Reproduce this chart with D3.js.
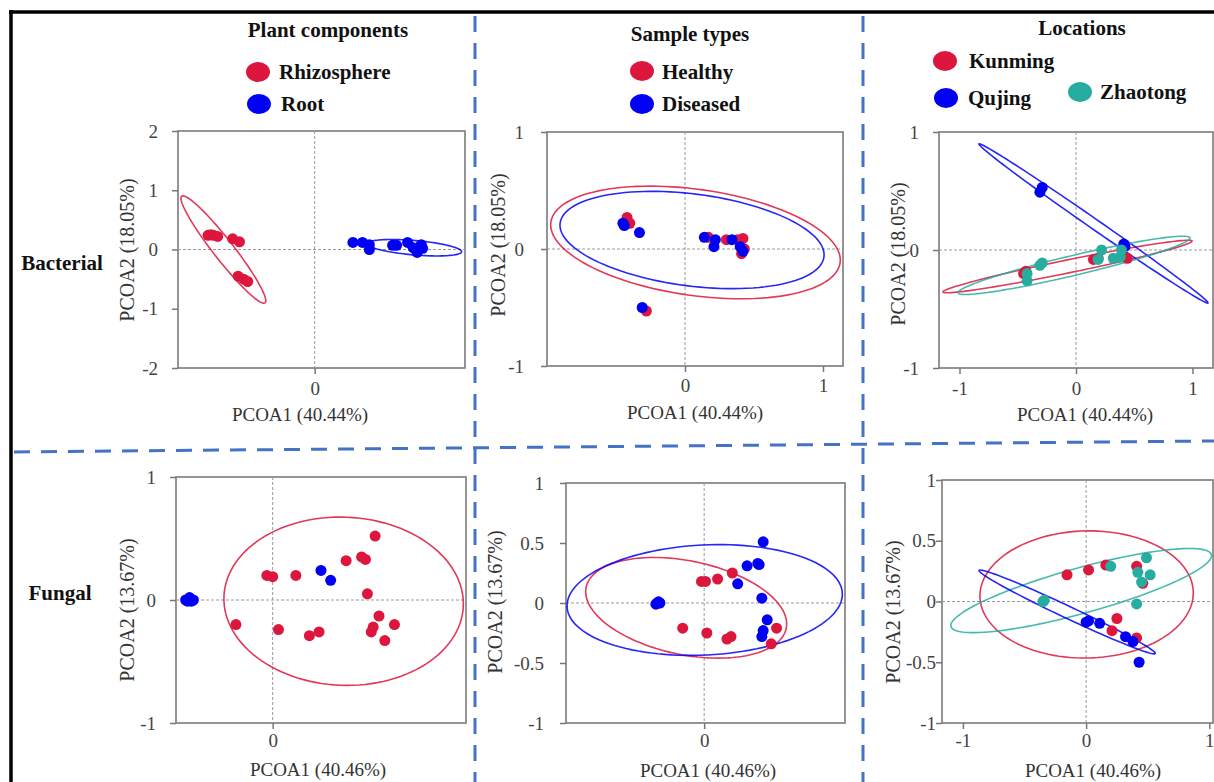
<!DOCTYPE html>
<html>
<head>
<meta charset="utf-8">
<script src="https://cdn.jsdelivr.net/npm/d3@7"></script>
<style>
  body { margin: 0; background: #fff; }
  svg { display: block; font-family: "Liberation Serif", "Times New Roman", serif; }
  .tick text { fill: #444; font-size: 19px; font-family: "Liberation Serif", serif; }
  .tick line { stroke: #777; stroke-width: 1.5; }
</style>
</head>
<body>
<svg id="chart" width="1214" height="782"></svg>
<script>
// ---- data (PCoA scores) ----
const red = "#dc163c", blue = "#0000f5", teal = "#27ada0";

// Bacterial - plant components
const bactPlantRhizo = [[-0.78,0.24],[-0.76,0.25],[-0.74,0.24],[-0.71,0.22],[-0.6,0.18],[-0.55,0.13],[-0.56,-0.45],[-0.52,-0.5],[-0.49,-0.54]];
const bactPlantRoot = [[0.28,0.12],[0.35,0.12],[0.40,0.08],[0.40,0.0],[0.57,0.07],[0.60,0.07],[0.68,0.12],[0.72,0.03],[0.75,-0.05],[0.78,0.08],[0.79,0.02]];
// Bacterial - sample types
const bactSampleHealthy = [[-0.42,0.27],[-0.40,0.22],[-0.28,-0.53],[0.17,0.10],[0.30,0.08],[0.42,0.09],[0.41,-0.04],[0.43,0.0],[0.38,0.08]];
const bactSampleDiseased = [[-0.45,0.22],[-0.44,0.2],[-0.33,0.14],[-0.31,-0.5],[0.14,0.10],[0.22,0.08],[0.21,0.02],[0.34,0.08],[0.40,0.02],[0.42,-0.02]];
// Bacterial - locations
const bactLocKunming = [[-0.45,-0.2],[-0.43,-0.18],[0.15,-0.08],[0.19,-0.07],[0.44,-0.07],[0.40,-0.05]];
const bactLocQujing = [[-0.29,0.53],[-0.31,0.49],[0.42,0.03],[0.41,0.05]];
const bactLocZhaotong = [[-0.42,-0.2],[-0.42,-0.26],[-0.31,-0.13],[-0.29,-0.11],[0.22,0.0],[0.19,-0.08],[0.32,-0.07],[0.38,-0.06],[0.39,0.0]];
// Fungal - plant components
const fungPlantRhizo = [[0.53,0.52],[0.38,0.32],[0.46,0.35],[0.48,0.33],[-0.03,0.2],[0.0,0.19],[0.12,0.2],[0.49,0.05],[-0.19,-0.2],[0.03,-0.24],[0.19,-0.29],[0.24,-0.26],[0.55,-0.13],[0.52,-0.22],[0.51,-0.26],[0.63,-0.2],[0.58,-0.33]];
const fungPlantRoot = [[-0.45,0],[-0.43,0.02],[-0.42,-0.01],[-0.44,-0.01],[-0.41,0.0],[0.25,0.24],[0.30,0.16]];
// Fungal - sample types
const fungSampleHealthy = [[0.21,0.25],[0.10,0.2],[-0.02,0.18],[0.01,0.18],[-0.16,-0.21],[0.02,-0.25],[0.17,-0.3],[0.2,-0.28],[0.54,-0.21],[0.50,-0.34]];
const fungSampleDiseased = [[-0.35,0],[-0.34,0.01],[-0.36,-0.01],[-0.33,0],[0.44,0.51],[0.32,0.31],[0.40,0.33],[0.41,0.32],[0.25,0.16],[0.43,0.04],[0.47,-0.14],[0.44,-0.23],[0.43,-0.28]];
// Fungal - locations
const fungLocKunming = [[-0.155,0.22],[0.02,0.26],[0.16,0.3],[0.41,0.29],[0.46,0.15],[0.25,-0.14],[0.21,-0.24],[0.41,-0.3]];
const fungLocQujing = [[0,-0.17],[0.02,-0.16],[0.11,-0.18],[0.32,-0.29],[0.38,-0.33],[0.43,-0.5]];
const fungLocZhaotong = [[-0.35,0],[-0.34,0.01],[0.2,0.29],[0.49,0.36],[0.42,0.24],[0.52,0.22],[0.45,0.16],[0.41,-0.02]];

// confidence ellipses: centre + two conjugate semi-axes, in data units
const bactPlantEll = [{c:[-0.668,0], u:[0.305,-0.9], v:[0.058,0.104], col:red}, {c:[0.73,0.03], u:[0.345,-0.07], v:[0.01,0.12], col:blue}];
const bactSampleEll = [{c:[0.076,0.056], u:[1.048,-0.174], v:[-0.054,-0.449], col:red}, {c:[0.051,0.077], u:[0.956,-0.144], v:[-0.042,-0.39], col:blue}];
const bactLocEll = [{c:[-0.073,-0.14], u:[1.069,0.216], v:[0.011,-0.054], col:red}, {c:[0.15,0.225], u:[0.983,-0.674], v:[-0.024,-0.035], col:blue}, {c:[-0.017,-0.13], u:[0.996,0.233], v:[0.02,-0.082], col:teal}];
const fungPlantEll = [{c:[0.367,-0.01], u:[0.619,-0.04], v:[-0.018,-0.683], col:red}];
const fungSampleEll = [{c:[-0.134,-0.04], u:[0.746,-0.171], v:[-0.07,-0.383], col:red}, {c:[0.004,0.025], u:[1.026,0.058], v:[0.021,-0.458], col:blue}];
const fungLocEll = [{c:[0.004,0.058], u:[0.866,0.012], v:[0,-0.523], col:red}, {c:[-0.04,0.09], u:[1.057,0.296], v:[0.049,-0.18], col:teal}, {c:[-0.154,-0.086], u:[0.715,-0.342], v:[-0.021,-0.045], col:blue}];

const xLabBact = "PCOA1  (40.44%)", yLabBact = "PCOA2 (18.05%)";
const xLabFung = "PCOA1  (40.46%)", yLabFung = "PCOA2 (13.67%)";

// ---- layout of the six panels ----
const panels = [
  {box:[178,465,131,368], xd:[-1,1.1], yd:[-2,2], xt:[0], yt:[-2,-1,0,1,2], yPad:14, xPad:8,
   series:[[bactPlantRhizo,red],[bactPlantRoot,blue]], ell:bactPlantEll, xl:[300,421], yl:[127,250], xLab:xLabBact, yLab:yLabBact},
  {box:[547,843,132,366], xd:[-1,1.145], yd:[-1,1], xt:[0,1], yt:[-1,0,1], yPad:17, xPad:7,
   series:[[bactSampleHealthy,red],[bactSampleDiseased,blue]], ell:bactSampleEll, xl:[695,419], yl:[498,245], xLab:xLabBact, yLab:yLabBact},
  {box:[939,1213,132,368], xd:[-1.176,1.176], yd:[-1,1], xt:[-1,0,1], yt:[-1,0,1], yPad:14, xPad:8,
   series:[[bactLocKunming,red],[bactLocQujing,blue],[bactLocZhaotong,teal]], ell:bactLocEll, xl:[1085,421], yl:[898,254], xLab:xLabBact, yLab:yLabBact},
  {box:[176,466,477,723], xd:[-0.5,1], yd:[-1,1], xt:[0], yt:[-1,0,1], yPad:14, xPad:5,
   series:[[fungPlantRhizo,red],[fungPlantRoot,blue]], ell:fungPlantEll, xl:[318,776], yl:[127,610], xLab:xLabFung, yLab:yLabFung},
  {box:[566,845,483,723], xd:[-1.03,1.05], yd:[-1,1], xt:[0], yt:[-1,-0.5,0,0.5,1], yPad:16, xPad:5,
   series:[[fungSampleHealthy,red],[fungSampleDiseased,blue]], ell:fungSampleEll, xl:[708,777], yl:[495,602], xLab:xLabFung, yLab:yLabFung},
  {box:[942,1213,480,723], xd:[-1.17,1.03], yd:[-1,1], xt:[-1,0,1], yt:[-1,-0.5,0,0.5,1], yPad:0, xPad:5,
   series:[[fungLocKunming,red],[fungLocQujing,blue],[fungLocZhaotong,teal]], ell:fungLocEll, xl:[1093,777], yl:[893,612], xLab:xLabFung, yLab:yLabFung}
];

const svg = d3.select("#chart");

function drawPanel(p) {
  const [x0, x1, y0, y1] = p.box;
  const x = d3.scaleLinear().domain(p.xd).range([x0, x1]);
  const y = d3.scaleLinear().domain(p.yd).range([y1, y0]);
  const g = svg.append("g");

  // frame
  g.append("rect").attr("x", x0).attr("y", y0).attr("width", x1 - x0).attr("height", y1 - y0)
    .attr("fill", "none").attr("stroke", "#7a7a7a").attr("stroke-width", 1.6);
  // zero lines
  g.append("line").attr("x1", x0).attr("x2", x1).attr("y1", y(0)).attr("y2", y(0))
    .attr("stroke", "#999").attr("stroke-dasharray", "3,2");
  g.append("line").attr("x1", x(0)).attr("x2", x(0)).attr("y1", y0).attr("y2", y1)
    .attr("stroke", "#999").attr("stroke-dasharray", "3,2");

  // axes (plain hyphen for negatives, as in the figure)
  const fmt = d => String(d);
  g.append("g").attr("transform", `translate(${x0},0)`)
    .call(d3.axisLeft(y).tickValues(p.yt).tickSize(6).tickPadding(p.yPad).tickFormat(fmt))
    .call(a => a.select(".domain").remove())
    .attr("font-family", null).attr("font-size", null);
  g.append("g").attr("transform", `translate(0,${y1})`)
    .call(d3.axisBottom(x).tickValues(p.xt).tickSize(6).tickPadding(p.xPad).tickFormat(fmt))
    .call(a => a.select(".domain").remove())
    .attr("font-family", null).attr("font-size", null);

  // ellipses
  const line = d3.line().x(d => x(d[0])).y(d => y(d[1])).curve(d3.curveLinearClosed);
  p.ell.forEach(e => {
    const pts = d3.range(0, 360, 3).map(a => {
      const t = a * Math.PI / 180;
      return [e.c[0] + e.u[0] * Math.cos(t) + e.v[0] * Math.sin(t),
              e.c[1] + e.u[1] * Math.cos(t) + e.v[1] * Math.sin(t)];
    });
    g.append("path").attr("d", line(pts)).attr("fill", "none")
      .attr("stroke", e.col).attr("stroke-opacity", 0.85).attr("stroke-width", 1.6);
  });

  // points
  p.series.forEach(([data, col]) => {
    g.selectAll(null).data(data).enter().append("circle")
      .attr("cx", d => x(d[0])).attr("cy", d => y(d[1])).attr("r", 5.5).attr("fill", col);
  });

  // axis titles
  g.append("text").attr("x", p.xl[0]).attr("y", p.xl[1]).attr("text-anchor", "middle")
    .attr("font-size", 19).attr("fill", "#333").text(p.xLab);
  g.append("text").attr("transform", `translate(${p.yl[0]},${p.yl[1]}) rotate(-90)`)
    .attr("text-anchor", "middle").attr("dominant-baseline", "central")
    .attr("font-size", 20).attr("fill", "#333").text(p.yLab);
}

panels.forEach(drawPanel);

// ---- titles, legends, row labels ----
const bold = {"font-weight": "bold", "font-size": 21, fill: "#111"};
function txt(x, y, s, anchor) {
  const t = svg.append("text").attr("x", x).attr("y", y).attr("text-anchor", anchor || "start").text(s);
  Object.entries(bold).forEach(([k, v]) => t.attr(k, v));
}
function key(cx, cy, col) {
  svg.append("ellipse").attr("cx", cx).attr("cy", cy).attr("rx", 12).attr("ry", 10).attr("fill", col);
}
txt(328, 37, "Plant components", "middle");
key(258, 72, red); txt(279, 79, "Rhizosphere");
key(259, 104, blue); txt(281, 111, "Root");

txt(690, 41, "Sample types", "middle");
key(642, 71, red); txt(662, 79, "Healthy");
key(642, 104, blue); txt(662, 111, "Diseased");

txt(1082, 35, "Locations", "middle");
key(945, 61, red); txt(969, 68, "Kunming");
key(946, 98, blue); txt(968, 105, "Qujing");
key(1080, 92, teal); txt(1100, 99, "Zhaotong");

txt(62, 270, "Bacterial", "middle");
txt(60, 600, "Fungal", "middle");

// ---- frame and dashed separators ----
svg.append("line").attr("x1", 9).attr("x2", 1214).attr("y1", 12).attr("y2", 12).attr("stroke", "#000").attr("stroke-width", 3.5);
svg.append("line").attr("x1", 11).attr("x2", 11).attr("y1", 10).attr("y2", 782).attr("stroke", "#000").attr("stroke-width", 3.5);
const dash = {stroke: "#4472c4", "stroke-width": 3, "stroke-dasharray": "16,11"};
function dline(a, b, c, d) {
  const l = svg.append("line").attr("x1", a).attr("y1", b).attr("x2", c).attr("y2", d);
  Object.entries(dash).forEach(([k, v]) => l.attr(k, v));
}
dline(475, 16, 475, 782);
dline(863, 16, 863, 782);
dline(14, 452, 1214, 441);
</script>
</body>
</html>
